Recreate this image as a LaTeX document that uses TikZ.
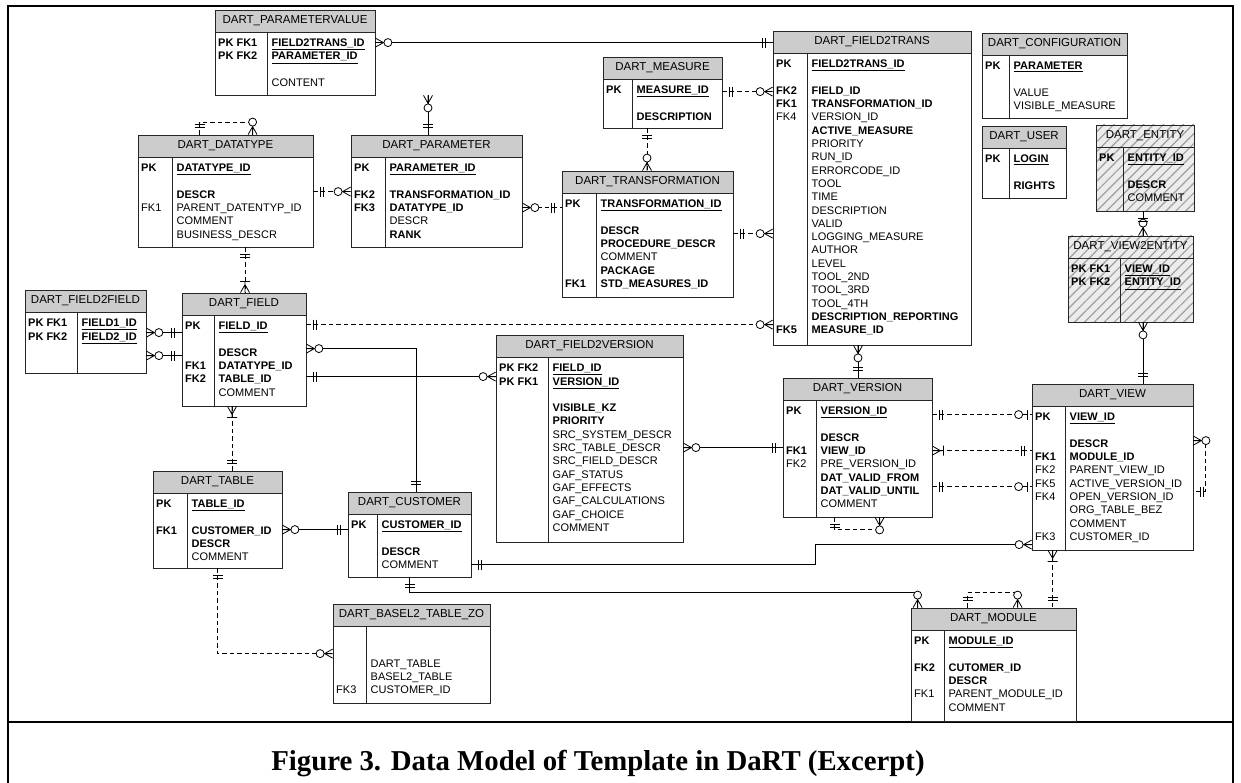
\documentclass[tikz,border=0pt]{standalone}
\usepackage{fontspec}
\setmainfont{Liberation Sans}
\newfontfamily\capfont{Liberation Serif}
\usetikzlibrary{calc,patterns.meta}

\newcommand{\tblfont}{\fontsize{11}{13.3}\selectfont}
\newcommand{\headfont}{\fontsize{11.5}{13.3}\selectfont}
\newlength{\kw}
\newcommand{\kf}[2]{\makebox[\kw][l]{#1}#2}
\newcommand{\pk}[1]{\underline{\textbf{#1}}}
% #1 name, #2 title, #3 top left, #4 width, #5 body height, #6 key column, #7 rows, #8 extra style
\newcommand{\ertable}[8]{%
  \begin{scope}[shift={(#3)}]
    \node[tblhead, minimum width=#4pt, #8] (#1) at (#4/2,11) {#2};
    \node[tblbody, minimum width=#4pt, minimum height=#5pt, #8] (#1-b) at (#4/2,22+#5/2) {};
    \draw[tblline] (#6,22) -- (#6,22+#5);
    \setlength{\kw}{#6pt}\addtolength{\kw}{1.5pt}%
    \node[tbltext] at (3,28.5) {\rule{0pt}{8pt}#7};
  \end{scope}}

\tikzset{
  tblhead/.style={draw=black!85, fill=gray!40, line width=0.8pt, minimum height=22pt, inner sep=0pt, font=\headfont},
  tblbody/.style={draw=black!85, fill=white, line width=0.8pt, inner sep=0pt},
  tbltext/.style={anchor=north west, inner sep=0pt, align=left, font=\tblfont},
  tblline/.style={draw=black!85, line width=0.8pt},
  hatch/.style={preaction={fill=gray!15}, pattern={Lines[angle=45,distance=7pt,line width=1.2pt]}, pattern color=gray!75},
  rel/.style={line width=0.8pt},
  opt/.style={rel, dash pattern=on 4.5pt off 3pt},
  figcap/.style={font={\capfont\bfseries\fontsize{28.8}{32}\selectfont}},
  zm/.pic={\draw[rel] (0,-4.5) -- (8,0) -- (0,4.5) (0,0) -- (8,0);
           \draw[rel, fill=white] (12.5,0) circle (4pt);},
  oo/.pic={\draw[rel] (7,-5) -- (7,5) (10,-5) -- (10,5);},
  zo/.pic={\draw[rel] (4,-5) -- (4,5); \draw[rel, fill=white] (13,0) circle (4pt);},
  om/.pic={\draw[rel] (0,-4.5) -- (8,0) -- (0,4.5) (0,0) -- (11,0) (11,-5) -- (11,5);},
}

\begin{document}
\begin{tikzpicture}[x=1pt, y=-1pt]
\useasboundingbox (0,0) rectangle (1241,783);
\draw[line width=2.5pt] (8,783) -- (8,6) -- (1233,6) -- (1233,783);
\draw[line width=2.5pt] (8,722) -- (1233,722);

\ertable{pv}{DART\_PARAMETERVALUE}{215,10}{160}{63}{52}{%
  \kf{\textbf{PK FK1}}{\pk{FIELD2TRANS\_ID}}\\ \kf{\textbf{PK FK2}}{\pk{PARAMETER\_ID}}\\ \kf{}{}\\ \kf{}{CONTENT}}{}
\ertable{dt}{DART\_DATATYPE}{138,135}{175}{90}{34}{%
  \kf{\textbf{PK}}{\pk{DATATYPE\_ID}}\\ \kf{}{}\\ \kf{}{\textbf{DESCR}}\\ \kf{FK1}{PARENT\_DATENTYP\_ID}\\
  \kf{}{COMMENT}\\ \kf{}{BUSINESS\_DESCR}}{}
\ertable{par}{DART\_PARAMETER}{351,135}{171}{90}{34}{%
  \kf{\textbf{PK}}{\pk{PARAMETER\_ID}}\\ \kf{}{}\\ \kf{\textbf{FK2}}{\textbf{TRANSFORMATION\_ID}}\\
  \kf{\textbf{FK3}}{\textbf{DATATYPE\_ID}}\\ \kf{}{DESCR}\\ \kf{}{\textbf{RANK}}}{}
\ertable{ms}{DART\_MEASURE}{603,57}{119}{49}{29}{%
  \kf{\textbf{PK}}{\pk{MEASURE\_ID}}\\ \kf{}{}\\ \kf{}{\textbf{DESCRIPTION}}}{}
\ertable{tr}{DART\_TRANSFORMATION}{562,171}{171}{104}{34}{%
  \kf{\textbf{PK}}{\pk{TRANSFORMATION\_ID}}\\ \kf{}{}\\ \kf{}{\textbf{DESCR}}\\ \kf{}{\textbf{PROCEDURE\_DESCR}}\\
  \kf{}{COMMENT}\\ \kf{}{\textbf{PACKAGE}}\\ \kf{\textbf{FK1}}{\textbf{STD\_MEASURES\_ID}}}{}
\ertable{f2t}{DART\_FIELD2TRANS}{773,31}{198}{292}{34}{%
  \kf{\textbf{PK}}{\pk{FIELD2TRANS\_ID}}\\ \kf{}{}\\ \kf{\textbf{FK2}}{\textbf{FIELD\_ID}}\\
  \kf{\textbf{FK1}}{\textbf{TRANSFORMATION\_ID}}\\ \kf{FK4}{VERSION\_ID}\\ \kf{}{\textbf{ACTIVE\_MEASURE}}\\
  \kf{}{PRIORITY}\\ \kf{}{RUN\_ID}\\ \kf{}{ERRORCODE\_ID}\\ \kf{}{TOOL}\\ \kf{}{TIME}\\ \kf{}{DESCRIPTION}\\
  \kf{}{VALID}\\ \kf{}{LOGGING\_MEASURE}\\ \kf{}{AUTHOR}\\ \kf{}{LEVEL}\\ \kf{}{TOOL\_2ND}\\ \kf{}{TOOL\_3RD}\\
  \kf{}{TOOL\_4TH}\\ \kf{}{\textbf{DESCRIPTION\_REPORTING}}\\ \kf{\textbf{FK5}}{\textbf{MEASURE\_ID}}}{}
\ertable{cfg}{DART\_CONFIGURATION}{982,33}{145}{63}{27}{%
  \kf{\textbf{PK}}{\pk{PARAMETER}}\\ \kf{}{}\\ \kf{}{VALUE}\\ \kf{}{VISIBLE\_MEASURE}}{}
\ertable{usr}{DART\_USER}{982,126}{84}{50}{27}{%
  \kf{\textbf{PK}}{\pk{LOGIN}}\\ \kf{}{}\\ \kf{}{\textbf{RIGHTS}}}{}
\ertable{ent}{DART\_ENTITY}{1096,125}{98}{64}{27}{%
  \kf{\textbf{PK}}{\pk{ENTITY\_ID}}\\ \kf{}{}\\ \kf{}{\textbf{DESCR}}\\ \kf{}{COMMENT}}{hatch}
\ertable{v2e}{DART\_VIEW2ENTITY}{1068,236}{125}{64}{52}{%
  \kf{\textbf{PK FK1}}{\pk{VIEW\_ID}}\\ \kf{\textbf{PK FK2}}{\pk{ENTITY\_ID}}}{hatch}
\ertable{f2f}{DART\_FIELD2FIELD}{25,290}{121}{61}{52}{%
  \kf{\textbf{PK FK1}}{\pk{FIELD1\_ID}}\\ \kf{\textbf{PK FK2}}{\pk{FIELD2\_ID}}}{}
\ertable{fld}{DART\_FIELD}{182,293}{124}{91}{32}{%
  \kf{\textbf{PK}}{\pk{FIELD\_ID}}\\ \kf{}{}\\ \kf{}{\textbf{DESCR}}\\ \kf{\textbf{FK1}}{\textbf{DATATYPE\_ID}}\\
  \kf{\textbf{FK2}}{\textbf{TABLE\_ID}}\\ \kf{}{COMMENT}}{}
\ertable{f2v}{DART\_FIELD2VERSION}{496,335}{187}{185}{52}{%
  \kf{\textbf{PK FK2}}{\pk{FIELD\_ID}}\\ \kf{\textbf{PK FK1}}{\pk{VERSION\_ID}}\\ \kf{}{}\\ \kf{}{\textbf{VISIBLE\_KZ}}\\
  \kf{}{\textbf{PRIORITY}}\\ \kf{}{SRC\_SYSTEM\_DESCR}\\ \kf{}{SRC\_TABLE\_DESCR}\\ \kf{}{SRC\_FIELD\_DESCR}\\
  \kf{}{GAF\_STATUS}\\ \kf{}{GAF\_EFFECTS}\\ \kf{}{GAF\_CALCULATIONS}\\ \kf{}{GAF\_CHOICE}\\ \kf{}{COMMENT}}{}
\ertable{ver}{DART\_VERSION}{783,378}{149}{117}{33}{%
  \kf{\textbf{PK}}{\pk{VERSION\_ID}}\\ \kf{}{}\\ \kf{}{\textbf{DESCR}}\\ \kf{\textbf{FK1}}{\textbf{VIEW\_ID}}\\
  \kf{FK2}{PRE\_VERSION\_ID}\\ \kf{}{\textbf{DAT\_VALID\_FROM}}\\ \kf{}{\textbf{DAT\_VALID\_UNTIL}}\\ \kf{}{COMMENT}}{}
\ertable{view}{DART\_VIEW}{1032,384}{161}{144}{33}{%
  \kf{\textbf{PK}}{\pk{VIEW\_ID}}\\ \kf{}{}\\ \kf{}{\textbf{DESCR}}\\ \kf{\textbf{FK1}}{\textbf{MODULE\_ID}}\\
  \kf{FK2}{PARENT\_VIEW\_ID}\\ \kf{FK5}{ACTIVE\_VERSION\_ID}\\ \kf{FK4}{OPEN\_VERSION\_ID}\\ \kf{}{ORG\_TABLE\_BEZ}\\
  \kf{}{COMMENT}\\ \kf{FK3}{CUSTOMER\_ID}}{}
\ertable{tbl}{DART\_TABLE}{153,471}{129}{75}{34}{%
  \kf{\textbf{PK}}{\pk{TABLE\_ID}}\\ \kf{}{}\\ \kf{\textbf{FK1}}{\textbf{CUSTOMER\_ID}}\\ \kf{}{\textbf{DESCR}}\\ \kf{}{COMMENT}}{}
\ertable{cus}{DART\_CUSTOMER}{348,492}{123}{63}{29}{%
  \kf{\textbf{PK}}{\pk{CUSTOMER\_ID}}\\ \kf{}{}\\ \kf{}{\textbf{DESCR}}\\ \kf{}{COMMENT}}{}
\ertable{bz}{DART\_BASEL2\_TABLE\_ZO}{333,604}{157}{77}{33}{%
  \kf{}{}\\ \kf{}{}\\ \kf{}{DART\_TABLE}\\ \kf{}{BASEL2\_TABLE}\\ \kf{FK3}{CUSTOMER\_ID}}{}
\ertable{mod}{DART\_MODULE}{911,608}{165}{91}{33}{%
  \kf{\textbf{PK}}{\pk{MODULE\_ID}}\\ \kf{}{}\\ \kf{\textbf{FK2}}{\textbf{CUTOMER\_ID}}\\ \kf{}{\textbf{DESCR}}\\
  \kf{FK1}{PARENT\_MODULE\_ID}\\ \kf{}{COMMENT}}{}

\draw[rel] ([yshift=-11pt]pv-b.north east) coordinate (a1) -- (a1 -| f2t.west) coordinate (b1);
\draw[rel] ([xshift=133pt]pv-b.south) coordinate (a2) -- (a2 |- par.north) coordinate (b2);
\draw[opt] ([xshift=62pt]dt.north west) coordinate (a3) -- ++(0,-12) -| ([xshift=115pt]dt.north west) coordinate (b3);
\draw[opt] ([yshift=-35pt]dt-b.north east) coordinate (a4) -- (a4 -| par-b.west) coordinate (b4);
\draw[opt] ([yshift=-51pt]par-b.north east) coordinate (a5) -- (a5 -| tr-b.west) coordinate (b5);
\draw[opt] ([yshift=-13pt]ms-b.north east) coordinate (a6) -- (a6 -| f2t-b.west) coordinate (b6);
\draw[opt] ([xshift=-15.5pt]ms-b.south) coordinate (a7) -- (a7 |- tr.north) coordinate (b7);
\draw[opt] ([yshift=-41pt]tr-b.north east) coordinate (a8) -- (a8 -| f2t-b.west) coordinate (b8);
\draw[opt] ([yshift=-10pt]fld-b.north east) coordinate (a9) -- (a9 -| f2t-b.west) coordinate (b9);
\draw[rel] ([xshift=-14pt]f2t-b.south) coordinate (a10) -- (a10 |- ver.north) coordinate (b10);
\draw[rel] ([xshift=-2pt]ent-b.south) coordinate (a11) -- (a11 |- v2e.north) coordinate (b11);
\draw[rel] ([xshift=12.5pt]v2e-b.south) coordinate (a12) -- (a12 |- view.north) coordinate (b12);
\draw[rel] ([yshift=-21pt]f2f-b.north east) coordinate (a13) -- (a13 -| fld-b.west) coordinate (b13);
\draw[rel] ([yshift=-44pt]f2f-b.north east) coordinate (a14) -- (a14 -| fld-b.west) coordinate (b14);
\draw[opt] ([xshift=19.5pt]dt-b.south) coordinate (a15) -- (a15 |- fld.north) coordinate (b15);
\draw[opt] ([xshift=-12pt]fld-b.south) coordinate (a16) -- (a16 |- tbl.north) coordinate (b16);
\draw[rel] ([yshift=-34pt]fld-b.north east) coordinate (a17) -| ([xshift=6.5pt]cus.north) coordinate (b17);
\draw[rel] ([yshift=-62pt]fld-b.north east) coordinate (a18) -- (a18 -| f2v-b.west) coordinate (b18);
\draw[rel] ([yshift=-91pt]f2v-b.north east) coordinate (a19) -- (a19 -| ver-b.west) coordinate (b19);
\draw[opt] ([yshift=-15pt]ver-b.north east) coordinate (a20) -- (a20 -| view-b.west) coordinate (b20);
\draw[opt] ([yshift=-51pt]ver-b.north east) coordinate (a21) -- (a21 -| view-b.west) coordinate (b21);
\draw[opt] ([yshift=-87pt]ver-b.north east) coordinate (a22) -- (a22 -| view-b.west) coordinate (b22);
\draw[opt] ([xshift=52pt]ver-b.south west) coordinate (a23) -- ++(0,12) -| ([xshift=97pt]ver-b.south west) coordinate (b23);
\draw[opt] ([yshift=-35pt]view-b.north east) coordinate (a24) -- ++(12,0) |- ([yshift=-86pt]view-b.north east) coordinate (b24);
\coordinate (b25) at ([yshift=-139pt]view-b.north west);
\draw[rel] ([yshift=-51pt]cus-b.north east) coordinate (a25) -| ([xshift=-216pt]b25) -- (b25);
\draw[rel] (cus-b.south) coordinate (a26) -- ++(0,15) -| ([xshift=7pt]mod.north west) coordinate (b26);
\draw[rel] ([yshift=-37pt]tbl-b.north east) coordinate (a27) -- (a27 -| cus-b.west) coordinate (b27);
\draw[opt] (tbl-b.south) coordinate (a28) |- ([yshift=-28pt]bz-b.north west) coordinate (b28);
\draw[opt] ([xshift=57pt]mod.north west) coordinate (a29) -- ++(0,-15) -| ([xshift=107pt]mod.north west) coordinate (b29);
\draw[opt] ([xshift=21pt]view-b.south west) coordinate (a30) -- (a30 |- mod.north) coordinate (b30);

\foreach \p/\r in {a1/0, a2/-90, b3/90, b4/180, a5/0, b6/180, b7/90, b8/180, b9/180, a10/-90, b11/90,
  a12/-90, a13/0, a14/0, a17/0, b18/180, a19/0, b23/-90, a24/0, b25/180, b26/90, a27/0, b28/180, b29/90}
  \pic[rotate=\r] at (\p) {zm};
\foreach \p/\r in {b1/180, b2/90, a3/90, a4/0, b5/180, a6/0, a7/-90, a8/0, a9/0, b10/90, a11/-90, b12/90,
  b13/180, b14/180, a15/-90, b16/90, b17/90, a18/0, b19/180, a20/0, b21/180, a22/0, a23/-90, b24/0,
  a25/0, a26/-90, b27/180, a28/-90, a29/90, b30/90}
  \pic[rotate=\r] at (\p) {oo};
\foreach \p/\r in {b20/180, b22/180}
  \pic[rotate=\r] at (\p) {zo};
\foreach \p/\r in {b15/90, a16/-90, a21/0, a30/-90}
  \pic[rotate=\r] at (\p) {om};

\node[figcap, anchor=base] (cap) at (598,770) {Figure 3. Data Model of Template in DaRT (Excerpt)};
\end{tikzpicture}
\end{document}
